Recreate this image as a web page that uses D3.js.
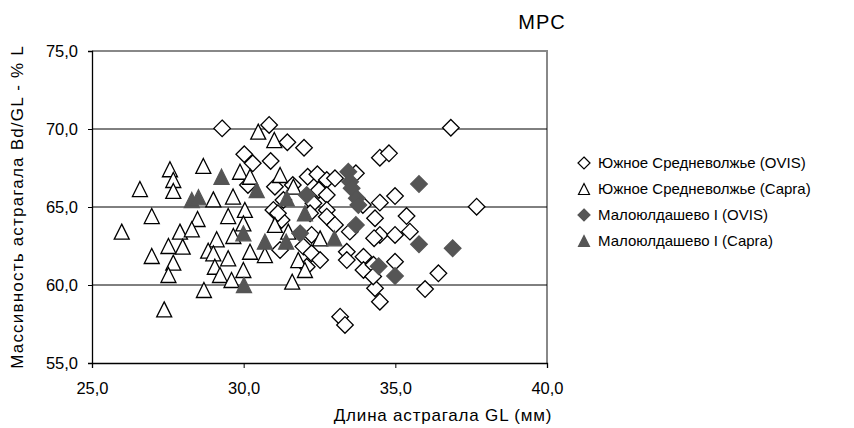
<!DOCTYPE html>
<html><head><meta charset="utf-8">
<script src="https://cdn.jsdelivr.net/npm/d3@7"></script>
<style>body{margin:0;background:#fff}svg{display:block;font-family:"Liberation Sans",Arial,sans-serif}</style>
</head><body><svg id="c" width="854" height="428"></svg>
<script>
const title = "MPC";
const xLabel = "Длина астрагала GL (мм)";
const yLabel = "Массивность астрагала Bd/GL - % L";
const xTicks = [25, 30, 35, 40];
const yTicks = [55, 60, 65, 70, 75];
const seriesNames = ["Южное Средневолжье (OVIS)", "Южное Средневолжье (Capra)", "Малоюлдашево I (OVIS)", "Малоюлдашево I (Capra)"];

// Южное Средневолжье (OVIS)
const ovisSX = [29.29,30.84,31.44,31.99,30.02,30.3,30.89,32.11,32.43,32.74,33.01,33.7,31.03,31.62,30.14,32.48,32.74,31.31,32.3,30.98,32.19,32.74,33.93,34.49,34.79,34.99,34.49,34.33,35.37,36.83,37.68,34.49,34.99,35.48,34.99,36.42,35.98,34.33,34.49,31.25,32.74,33.01,32.24,31.2,31.97,32.24,32.52,32.08,33.4,33.4,33.95,33.95,33.18,33.34,34.3,33.5,31.13,34.28,34.27];
const ovisSY = [70.04,70.26,69.15,68.8,68.38,67.8,67.95,66.94,67.1,66.73,66.84,67.16,66.3,66.41,66.41,66.09,65.77,65.45,65.24,64.81,64.6,64.81,65.13,68.16,68.44,65.7,65.28,64.28,64.42,70.08,65.02,63.21,63.21,63.42,61.49,60.75,59.74,59.79,58.93,64.17,64.38,63.85,63.21,62.24,62.46,62.03,61.6,61.17,62.13,61.6,61.81,60.96,57.97,57.44,63.0,63.42,64.6,61.3,60.55];
// Южное Средневолжье (Capra)
const capraSX = [27.57,28.67,27.68,26.58,27.68,29.0,29.65,26.97,28.48,29.49,25.98,27.9,28.29,27.52,27.99,29.11,28.83,29.0,29.49,26.97,27.68,27.52,29.05,29.22,29.6,28.69,27.38,30.48,31.01,29.88,30.21,31.2,30.04,31.64,29.99,31.03,31.47,29.66,30.21,30.7,31.8,32.02,29.99,31.6,32.52];
const capraSY = [67.42,67.63,66.73,66.15,66.03,65.49,65.67,64.42,64.23,64.42,63.42,63.42,63.57,62.5,62.46,62.93,62.2,62.03,61.71,61.86,61.43,60.64,61.17,60.64,60.32,59.68,58.44,69.83,69.29,67.26,66.94,67.05,64.81,66.3,63.95,63.85,63.42,63.14,62.13,61.92,61.6,60.96,60.96,60.21,62.99];
// Малоюлдашево I (OVIS)
const ovisMX = [33.45,33.51,33.56,33.73,33.78,32.08,31.86,33.7,34.45,35.78,35.78,36.89,34.99];
const ovisMY = [67.26,66.62,66.2,65.56,65.13,65.77,63.31,63.85,61.2,66.47,62.61,62.35,60.58];
// Малоюлдашево I (Capra)
const capraMX = [29.27,28.29,28.51,30.43,31.42,32.02,29.99,30.7,31.4,32.99,30.01];
const capraMY = [66.94,65.45,65.62,66.09,65.56,64.6,63.31,62.78,62.78,62.99,60.0];

const svg = d3.select("#c");
const m = {l: 92, r: 547, t: 51, b: 363};
const x = d3.scaleLinear().domain([25, 40]).range([m.l, m.r]);
const y = d3.scaleLinear().domain([55, 75]).range([m.b, m.t]);
const fmt = d => d3.format(".1f")(d).replace(".", ",");

// plot area border (top/right gray)
svg.append("path").attr("d", `M${m.l},${m.t}H${m.r}V${m.b}`).attr("fill","none").attr("stroke","#888").attr("stroke-width",2);
// gridlines
svg.append("g").selectAll("line").data(yTicks.filter(v => v > 55 && v < 75)).join("line")
  .attr("x1", m.l).attr("x2", m.r).attr("y1", d => y(d)).attr("y2", d => y(d))
  .attr("stroke", "#000").attr("stroke-width", 1);

// axes
const yAxis = svg.append("g").attr("transform", `translate(${m.l},0)`)
  .call(d3.axisLeft(y).tickValues(yTicks).tickFormat(fmt).tickSize(4).tickPadding(10));
const xAxis = svg.append("g").attr("transform", `translate(0,${m.b})`)
  .call(d3.axisBottom(x).tickValues(xTicks).tickFormat(fmt).tickSize(5).tickPadding(14));
[xAxis, yAxis].forEach(g => {
  g.select(".domain").attr("stroke", "#000").attr("stroke-width", 1.3);
  g.selectAll(".tick line").attr("stroke", "#000");
  g.selectAll("text").attr("font-size", 16.5).attr("fill", "#000").attr("font-family", "Liberation Sans, Arial, sans-serif");
});

// marker shapes
const diamond = r => `M0,${-r}L${r},0L0,${r}L${-r},0Z`;
const tri = h => `M0,${-h}L${h},${h}L${-h},${h}Z`;
const shapes = [
  {xs: ovisSX, ys: ovisSY, d: diamond(8.3), fill: "#fff", stroke: "#000", ld: diamond(6)},
  {xs: capraSX, ys: capraSY, d: tri(7.5), fill: "#fff", stroke: "#000", ld: tri(5.5)},
  {xs: ovisMX, ys: ovisMY, d: diamond(8.3), fill: "#555", stroke: "#555", ld: diamond(6)},
  {xs: capraMX, ys: capraMY, d: tri(7.5), fill: "#555", stroke: "#555", ld: tri(5.5)}
];
const plot = svg.append("g");
shapes.forEach(s => {
  plot.append("g").selectAll("path").data(s.xs.map((v, i) => [v, s.ys[i]])).join("path")
    .attr("transform", d => `translate(${x(d[0])},${y(d[1])})`)
    .attr("d", s.d).attr("fill", s.fill).attr("stroke", s.stroke).attr("stroke-width", 1.3);
});

// title
svg.append("text").attr("x", 542).attr("y", 29).attr("text-anchor", "middle")
  .attr("font-size", 20).attr("letter-spacing", 1).text(title);
// axis labels
svg.append("text").attr("x", 443).attr("y", 421).attr("text-anchor", "middle")
  .attr("font-size", 17).attr("letter-spacing", 0.8).text(xLabel);
svg.append("text").attr("transform", `translate(23,${(m.t + m.b) / 2}) rotate(-90)`).attr("text-anchor", "middle")
  .attr("font-size", 17).attr("letter-spacing", 1.2).text(yLabel);

// legend
const lg = svg.append("g").selectAll("g").data(seriesNames).join("g")
  .attr("transform", (d, i) => `translate(584,${163 + i * 26})`);
lg.append("path").attr("d", (d, i) => shapes[i].ld).attr("fill", (d, i) => shapes[i].fill)
  .attr("stroke", (d, i) => shapes[i].stroke).attr("stroke-width", 1.2);
lg.append("text").attr("x", 14).attr("dy", "0.35em").attr("font-size", 15).text(d => d);
</script></body></html>
